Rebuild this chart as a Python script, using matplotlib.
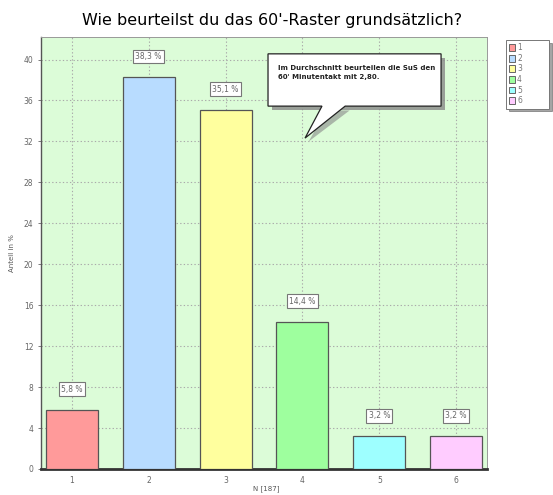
import matplotlib
matplotlib.use("Agg")
import matplotlib.pyplot as plt
from matplotlib.patches import Polygon, Rectangle
import matplotlib.transforms as mtrans

categories = ["1", "2", "3", "4", "5", "6"]
values = [5.8, 38.3, 35.1, 14.4, 3.2, 3.2]
value_labels = ["5,8 %", "38,3 %", "35,1 %", "14,4 %", "3,2 %", "3,2 %"]
colors = ["#FF9A9A", "#B8DCFF", "#FFFF9E", "#9EFF9E", "#9EFFFF", "#FFCCFF"]
yticks = [0, 4, 8, 12, 16, 20, 24, 28, 32, 36, 40]
title = "Wie beurteilst du das 60'-Raster grundsätzlich?"
note = "Im Durchschnitt beurteilen die SuS den\n60' Minutentakt mit 2,80."

fig = plt.figure(figsize=(5.53, 4.95), dpi=100)
fig.patch.set_facecolor("white")
ax = fig.add_axes([41/553, 1-469/495, 446/553, 432/495])
ax.set_facecolor("#DCFCD8")

x = list(range(1, len(categories) + 1))
bars = ax.bar(x, values, width=0.675, color=colors, edgecolor="#555555",
              linewidth=0.9, zorder=3)

ax.set_xlim(0.6, 6.4)
ax.set_ylim(0, 42.2)
ax.set_yticks(yticks)
ax.set_xticks(x)
ax.set_xticklabels(categories)
offset = mtrans.ScaledTranslation(-14/100, 0, fig.dpi_scale_trans)
for lab in ax.get_xticklabels():
    lab.set_transform(lab.get_transform() + offset)

ax.tick_params(axis="both", labelsize=5.5, colors="#666666", length=2, width=0.6)
ax.tick_params(axis="x", length=0, pad=5)
ax.grid(True, color="#AAAAAA", linestyle=(0, (1.2, 2)), linewidth=0.8, zorder=1)

for s in ["top", "right"]:
    ax.spines[s].set_color("#999999")
    ax.spines[s].set_linewidth(0.7)
ax.spines["left"].set_color("#555555")
ax.spines["left"].set_linewidth(1.0)
ax.spines["bottom"].set_color("#333333")
ax.spines["bottom"].set_linewidth(2.0)

for xi, v, lab in zip(x, values, value_labels):
    ax.text(xi, v + 2.0, lab, ha="center", va="center", fontsize=5.5,
            color="#666666", zorder=5,
            bbox=dict(boxstyle="square,pad=0.3", fc="white", ec="#777777", lw=0.8))

ax.set_ylabel("Anteil in %", fontsize=5, color="#555555", labelpad=6)
fig.text(266/553, 1-489/495, "N [187]", ha="center", va="center", fontsize=5,
         color="#555555")

fig.text(272/553, 1-20/495, title, ha="center", va="center", fontsize=11.5,
         color="#000000")

# callout
T = ax.transAxes
bx0, bx1, by0, by1 = 0.509, 0.897, 0.840, 0.961
sh = 0.009
ax.add_patch(Polygon([(bx0+sh, by0-sh), (bx1+sh, by0-sh), (bx1+sh, by1-sh), (bx0+sh, by1-sh)],
                     closed=True, transform=T, fc="#888888", ec="none", zorder=6, alpha=0.8))
ax.add_patch(Polygon([(0.640, by0-0.01), (0.692, by0-0.01), (0.600, 0.758)], closed=True,
                     transform=T, fc="#888888", ec="none", zorder=6, alpha=0.6))
pts = [(bx0, by0), (0.630, by0), (0.592, 0.766), (0.682, by0), (bx1, by0), (bx1, by1), (bx0, by1)]
ax.add_patch(Polygon(pts, closed=True, transform=T, fc="white", ec="#222222",
                     lw=0.9, zorder=7))
ax.text(0.532, 0.935, note, transform=T, ha="left", va="top", fontsize=5,
        fontweight="bold", color="#222222", zorder=8, linespacing=1.6)

# legend
handles = [Rectangle((0, 0), 1, 1, fc=c, ec="#666666", lw=0.7) for c in colors]
leg = fig.legend(handles, categories, loc="upper left",
                 bbox_to_anchor=(506/553, 1-111/495, 43/553, 71/495), mode="expand",
                 fontsize=5.5,
                 frameon=True, fancybox=False, shadow=True, handlelength=0.7,
                 handleheight=1.0, handletextpad=0.3, borderpad=0.45,
                 labelspacing=0.2, borderaxespad=0)
leg.get_frame().set_edgecolor("#777777")
leg.get_frame().set_linewidth(0.7)
for t in leg.get_texts():
    t.set_color("#777777")

fig.savefig("out.png", dpi=100)
